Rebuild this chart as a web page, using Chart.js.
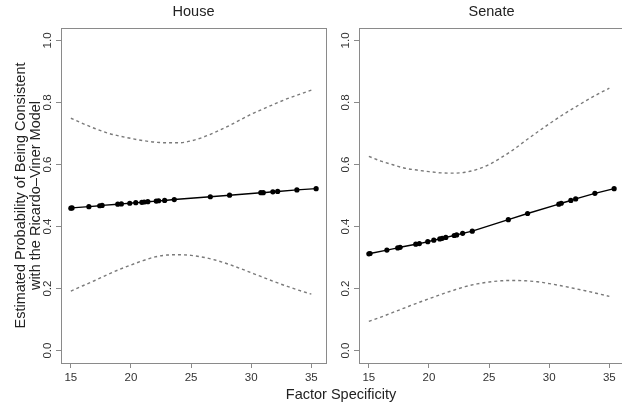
<!DOCTYPE html>
<html lang="en">
<head>
    <meta charset="UTF-8">
    <title>Ricardo-Viner Model</title>
    <script src="https://cdn.jsdelivr.net/npm/chart.js"></script>
    <style>
        body {
            margin: 0;
            width: 622px;
            height: 404px;
            overflow: hidden;
            background: #ffffff;
        }
        canvas {
            position: absolute;
            top: 0;
            left: 0;
        }
    </style>
</head>
<body>
    <canvas id="house" width="640" height="404"></canvas>
    <canvas id="senate" width="640" height="404"></canvas>

    <script>
        // factor specificity of each observation (points on the fitted line)
        var specificity = [15.0, 15.1, 16.5, 17.4, 17.6, 18.9, 19.2, 19.9, 20.4, 20.9, 21.1, 21.4,
                           22.1, 22.3, 22.8, 23.6, 26.6, 28.2, 30.8, 31.0, 31.8, 32.2, 33.8, 35.4];
        var houseFit = [0.459, 0.460, 0.464, 0.467, 0.468, 0.472, 0.473, 0.475, 0.477, 0.478, 0.479, 0.480,
                        0.482, 0.483, 0.484, 0.487, 0.496, 0.501, 0.509, 0.509, 0.512, 0.513, 0.518, 0.522];
        var senateFit = [0.312, 0.313, 0.324, 0.331, 0.333, 0.343, 0.345, 0.351, 0.356, 0.360, 0.362, 0.365,
                         0.371, 0.373, 0.378, 0.385, 0.422, 0.442, 0.472, 0.475, 0.484, 0.489, 0.507, 0.522];

        // confidence bands
        var bandX = [15, 16, 17, 18, 19, 20, 21, 22, 23, 24, 25, 26, 27, 28, 29, 30, 31, 32, 33, 34, 35];
        var houseUpper = [0.749, 0.732, 0.716, 0.702, 0.692, 0.684, 0.677, 0.672, 0.670, 0.670, 0.676,
                          0.688, 0.704, 0.722, 0.742, 0.762, 0.779, 0.796, 0.812, 0.826, 0.840];
        var houseLower = [0.192, 0.209, 0.226, 0.244, 0.261, 0.276, 0.290, 0.302, 0.308, 0.309, 0.307,
                          0.301, 0.292, 0.280, 0.266, 0.251, 0.236, 0.221, 0.207, 0.194, 0.182];
        var senateUpper = [0.626, 0.611, 0.599, 0.588, 0.582, 0.577, 0.573, 0.572, 0.575, 0.584, 0.600,
                           0.622, 0.647, 0.676, 0.704, 0.731, 0.757, 0.781, 0.804, 0.826, 0.846];
        var senateLower = [0.094, 0.108, 0.123, 0.138, 0.153, 0.167, 0.181, 0.194, 0.206, 0.215, 0.221,
                           0.225, 0.226, 0.225, 0.222, 0.216, 0.209, 0.201, 0.193, 0.184, 0.175];

        var xTitle = 'Factor Specificity';
        var yTitle = ['Estimated Probability of Being Consistent', 'with the Ricardo\u2013Viner Model'];

        var FONT = '"Liberation Sans", Arial, sans-serif';
        var BOX = '#8a8a8a';

        function pairs(xs, ys) {
            return xs.map(function(x, i) { return { x: x, y: ys[i] }; });
        }

        // R-style frame, panel title, and (optionally) the shared x label
        var framePlugin = {
            id: 'frame',
            afterDraw: function(chart, args, opts) {
                var ctx = chart.ctx;
                var a = chart.chartArea;
                ctx.save();
                ctx.strokeStyle = BOX;
                ctx.lineWidth = 1;
                ctx.strokeRect(Math.round(a.left) + 0.5, Math.round(a.top) + 0.5,
                               Math.round(a.right - a.left), Math.round(a.bottom - a.top));
                ctx.fillStyle = '#222';
                ctx.font = '14.5px ' + FONT;
                ctx.textAlign = 'center';
                ctx.textBaseline = 'middle';
                ctx.fillText(opts.title, (a.left + a.right) / 2, 12);
                if (opts.xlabel) {
                    ctx.fillText(opts.xlabel, 341, 395);
                }
                ctx.restore();
            }
        };

        function makePanel(id, fit, upper, lower, title, left, showYTitle) {
            var yWidth = showYTitle ? 61 : 30;
            return new Chart(document.getElementById(id), {
                type: 'scatter',
                data: {
                    datasets: [
                        {
                            data: pairs(specificity, fit),
                            showLine: true,
                            borderColor: '#000',
                            borderWidth: 1.4,
                            pointRadius: 2.6,
                            pointBackgroundColor: '#000',
                            pointBorderWidth: 0
                        },
                        {
                            data: pairs(bandX, upper),
                            showLine: true,
                            borderColor: '#7a7a7a',
                            borderWidth: 1.4,
                            borderDash: [3, 3],
                            pointRadius: 0,
                            cubicInterpolationMode: 'monotone'
                        },
                        {
                            data: pairs(bandX, lower),
                            showLine: true,
                            borderColor: '#7a7a7a',
                            borderWidth: 1.4,
                            borderDash: [3, 3],
                            pointRadius: 0,
                            cubicInterpolationMode: 'monotone'
                        }
                    ]
                },
                options: {
                    responsive: false,
                    animation: false,
                    events: [],
                    layout: {
                        padding: { left: left - yWidth, right: 640 - left - 265, top: 28, bottom: 0 }
                    },
                    plugins: {
                        legend: { display: false },
                        tooltip: { enabled: false },
                        frame: { title: title, xlabel: showYTitle ? xTitle : null }
                    },
                    scales: {
                        x: {
                            type: 'linear',
                            min: 14.18,
                            max: 36.22,
                            afterFit: function(scale) { scale.height = 41; },
                            border: { display: false },
                            grid: { drawOnChartArea: false, drawTicks: true, tickLength: 5, color: BOX },
                            ticks: {
                                stepSize: 5,
                                includeBounds: false,
                                padding: 3,
                                color: '#333',
                                font: { family: FONT, size: 11.5 }
                            }
                        },
                        y: {
                            type: 'linear',
                            min: -0.04,
                            max: 1.04,
                            afterFit: function(scale) { scale.width = yWidth; },
                            border: { display: false },
                            grid: { drawOnChartArea: false, drawTicks: true, tickLength: 5, color: BOX },
                            title: {
                                display: showYTitle,
                                text: yTitle,
                                color: '#222',
                                font: { family: FONT, size: 14.5, lineHeight: 1.05 },
                                padding: { top: 13, bottom: 0 }
                            },
                            ticks: {
                                stepSize: 0.2,
                                includeBounds: false,
                                minRotation: 90,
                                maxRotation: 90,
                                crossAlign: 'center',
                                padding: 0,
                                color: '#333',
                                font: { family: FONT, size: 11.5 },
                                callback: function(v) { return Number(v).toFixed(1); }
                            }
                        }
                    }
                },
                plugins: [framePlugin]
            });
        }

        makePanel('house', houseFit, houseUpper, houseLower, 'House', 61, true);
        makePanel('senate', senateFit, senateUpper, senateLower, 'Senate', 359, false);
    </script>
</body>
</html>
